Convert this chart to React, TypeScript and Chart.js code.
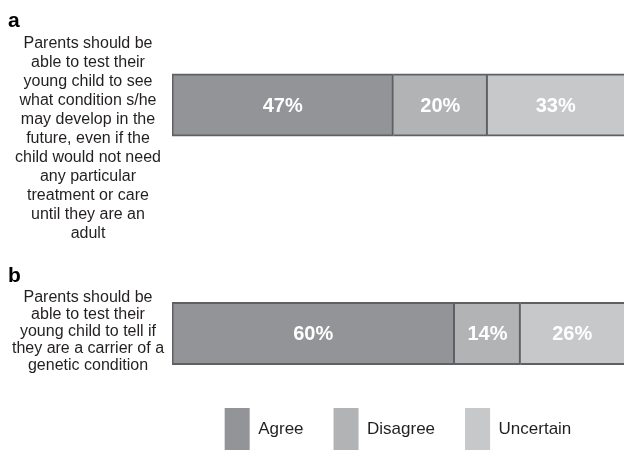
import React, { useEffect, useRef } from 'react';
import { Chart, registerables } from 'chart.js';

Chart.register(...registerables);

// ---- data ----
const categories = ['a', 'b'];
const statementA = [
  'Parents should be',
  'able to test their',
  'young child to see',
  'what condition s/he',
  'may develop in the',
  'future, even if the',
  'child would not need',
  'any particular',
  'treatment or care',
  'until they are an',
  'adult',
];
const statementB = [
  'Parents should be',
  'able to test their',
  'young child to tell if',
  'they are a carrier of a',
  'genetic condition',
];
const seriesNames = ['Agree', 'Disagree', 'Uncertain'];
const agree = [47, 60];
const disagree = [20, 14];
const uncertain = [33, 26];
const xMax = 96;

const COLORS = ['#939497', '#b2b3b5', '#c7c8ca'];
const BORDER = '#5f6062';
const FONT = '"Liberation Sans", Arial, Helvetica, sans-serif';

const valueLabels = {
  id: 'valueLabels',
  afterDatasetsDraw(chart: any) {
    const { ctx, chartArea } = chart;
    ctx.save();
    ctx.font = `bold 20px ${FONT}`;
    ctx.fillStyle = '#ffffff';
    ctx.textAlign = 'center';
    ctx.textBaseline = 'middle';
    chart.data.datasets.forEach((ds: any, di: number) => {
      const meta = chart.getDatasetMeta(di);
      meta.data.forEach((bar: any, i: number) => {
        const p = bar.getProps(['x', 'base', 'y'], true);
        const l = Math.max(Math.min(p.x, p.base), chartArea.left);
        const r = Math.min(Math.max(p.x, p.base), chartArea.right);
        ctx.fillText(`${ds.data[i]}%`, (l + r) / 2, p.y + 1);
      });
    });
    ctx.restore();
  },
};

export default function App() {
  const canvasRef = useRef<HTMLCanvasElement | null>(null);

  useEffect(() => {
    if (!canvasRef.current) return;
    const series = [agree, disagree, uncertain];
    const chart = new Chart(canvasRef.current, {
      type: 'bar',
      data: {
        labels: categories,
        datasets: series.map((vals, k) => ({
          label: seriesNames[k],
          data: vals,
          backgroundColor: COLORS[k],
          borderColor: BORDER,
          borderWidth: { top: 2, bottom: 2, left: k === 0 ? 2 : 0, right: 2 },
          borderSkipped: false,
          inflateAmount: 0.5,
          barThickness: 62,
          clip: { left: 0, top: false, right: 0, bottom: false },
        })) as any,
      },
      options: {
        indexAxis: 'y',
        animation: false,
        responsive: true,
        maintainAspectRatio: false,
        layout: { padding: { left: 172, right: 0, top: 105, bottom: 0 } },
        scales: {
          x: {
            stacked: true,
            min: 0,
            max: xMax,
            display: true,
            ticks: { display: false },
            grid: { display: false, drawTicks: true, tickLength: 44.5 },
            border: { display: false },
          },
          y: {
            stacked: true,
            offset: false,
            display: false,
            grid: { offset: false },
          },
        },
        plugins: {
          tooltip: { enabled: false },
          legend: {
            position: 'bottom',
            align: 'center',
            labels: {
              boxWidth: 25,
              boxHeight: 42,
              padding: 30,
              color: '#231f20',
              font: { family: FONT, size: 17 },
              generateLabels: (c: any) =>
                (Chart.defaults.plugins.legend.labels as any)
                  .generateLabels(c)
                  .map((it: any) => ({ ...it, lineWidth: 0, strokeStyle: 'rgba(0,0,0,0)' })),
            },
          },
        },
      } as any,
      plugins: [valueLabels],
    });
    return () => chart.destroy();
  }, []);

  const textStyle: React.CSSProperties = {
    position: 'absolute',
    left: 0,
    width: 176,
    textAlign: 'center',
    fontFamily: FONT,
    fontSize: 16,
    color: '#231f20',
    whiteSpace: 'nowrap',
  };
  const letterStyle: React.CSSProperties = {
    position: 'absolute',
    left: 8,
    fontFamily: FONT,
    fontWeight: 'bold',
    fontSize: 21,
    lineHeight: '21px',
    color: '#000',
  };

  return (
    <div
      style={{
        position: 'fixed',
        left: 0,
        top: 0,
        width: 624,
        height: 450,
        overflow: 'hidden',
        background: '#fff',
      }}
    >
      <div style={{ position: 'absolute', left: 0, top: 0, width: 624, height: 460 }}>
        <canvas ref={canvasRef} />
      </div>
      <div style={{ ...letterStyle, top: 9 }}>{categories[0]}</div>
      <div style={{ ...textStyle, top: 33, lineHeight: '19px' }}>
        {statementA.map((s, i) => (
          <div key={i}>{s}</div>
        ))}
      </div>
      <div style={{ ...letterStyle, top: 264 }}>{categories[1]}</div>
      <div style={{ ...textStyle, top: 288, lineHeight: '17px' }}>
        {statementB.map((s, i) => (
          <div key={i}>{s}</div>
        ))}
      </div>
    </div>
  );
}
